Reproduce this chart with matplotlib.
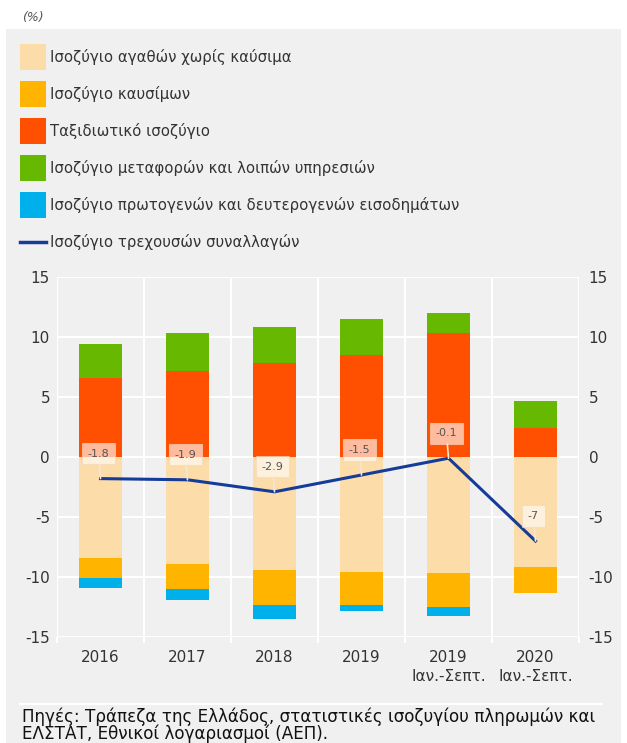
import numpy as np
import matplotlib
matplotlib.use("Agg")
import matplotlib.pyplot as plt
from matplotlib.patches import Rectangle
from matplotlib.lines import Line2D

# Data (% of GDP)
categories = ["2016", "2017", "2018", "2019", "2019\nΙαν.-Σεπτ.", "2020\nΙαν.-Σεπτ."]
goods_ex_fuel = [-8.4, -8.95, -9.4, -9.55, -9.7, -9.2]
fuel = [-1.7, -2.05, -2.9, -2.75, -2.8, -2.1]
income = [-0.85, -0.95, -1.2, -0.55, -0.75, 0.0]
travel = [6.55, 7.2, 7.8, 8.5, 10.35, 2.4]
transport = [2.85, 3.1, 3.0, 3.0, 1.65, 2.25]
current_account = [-1.8, -1.9, -2.9, -1.5, -0.1, -7.0]
ca_labels = ["-1.8", "-1.9", "-2.9", "-1.5", "-0.1", "-7"]

labels = [
    "Ισοζύγιο αγαθών χωρίς καύσιμα",
    "Ισοζύγιο καυσίμων",
    "Ταξιδιωτικό ισοζύγιο",
    "Ισοζύγιο μεταφορών και λοιπών υπηρεσιών",
    "Ισοζύγιο πρωτογενών και δευτερογενών εισοδημάτων",
    "Ισοζύγιο τρεχουσών συναλλαγών",
]
colors = ["#FCDCA8", "#FFB400", "#FF4F00", "#66B800", "#00B0EA"]
line_color = "#143C98"
bg = "#F0F0F0"
txt = "#333333"

plt.rcParams["font.family"] = ["DejaVu Sans"]
plt.rcParams["axes.unicode_minus"] = False

W, H = 627, 743
fig = plt.figure(figsize=(W / 100, H / 100), dpi=100, facecolor="white")

# grey panel
fig.patches.append(Rectangle((6 / W, 0), 615 / W, 1 - 29 / H, transform=fig.transFigure,
                             facecolor=bg, edgecolor="none", zorder=-10))

ax = fig.add_axes([57 / W, 1 - 637 / H, 522 / W, 360 / H])
ax.set_facecolor(bg)
x = np.arange(len(categories))
bw = 0.5

g = np.array(goods_ex_fuel)
f = np.array(fuel)
inc = np.array(income)
tr = np.array(travel)
tp = np.array(transport)

ax.bar(x, g, bw, color=colors[0], zorder=2)
ax.bar(x, f, bw, bottom=g, color=colors[1], zorder=2)
ax.bar(x, inc, bw, bottom=g + f, color=colors[4], zorder=2)
ax.bar(x, tr, bw, color=colors[2], zorder=2)
ax.bar(x, tp, bw, bottom=tr, color=colors[3], zorder=2)

ax.plot(x, current_account, color=line_color, lw=2.2, zorder=3)

for xi, yi, lab in zip(x, current_account, ca_labels):
    ax.annotate(lab, xy=(xi, yi), xytext=(-2, 25), textcoords="offset pixels",
                ha="center", va="center", fontsize=8, color="#555555", zorder=4,
                bbox=dict(boxstyle="square,pad=0.5", facecolor="white", alpha=0.62,
                          edgecolor="#f3d9c0", lw=0.8),
                arrowprops=dict(arrowstyle="-", color="#f6e6d2", lw=1.2,
                                shrinkA=0, shrinkB=0))

ax.set_xlim(-0.5, len(categories) - 0.5)
ax.set_ylim(-15, 15)
ax.set_yticks(np.arange(-15, 16, 5))
ax.set_xticks(x)
ax.set_xticklabels(categories, fontsize=11, color=txt, linespacing=1.35)
ax.set_xticks(np.arange(-0.5, len(categories), 1), minor=True)
ax.grid(True, which="major", axis="y", color="white", lw=1.5, zorder=1)
ax.grid(True, which="minor", axis="x", color="white", lw=1.5, zorder=1)
ax.tick_params(axis="x", which="major", length=0, pad=9)
ax.tick_params(axis="x", which="minor", length=4, color="white", width=1.5)
ax.tick_params(axis="y", length=0, labelsize=11, labelcolor=txt, pad=5)
for s in ax.spines.values():
    s.set_visible(False)
ax.set_axisbelow(True)

ax2 = ax.twinx()
ax2.set_ylim(-15, 15)
ax2.set_yticks(np.arange(-15, 16, 5))
ax2.tick_params(axis="y", length=0, labelsize=11, labelcolor=txt, pad=7)
for s in ax2.spines.values():
    s.set_visible(False)

# legend, drawn row by row
for i, lab in enumerate(labels):
    yc = 1 - (57 + 37 * i) / H
    if i < len(colors):
        fig.patches.append(Rectangle((20 / W, yc - 13 / H), 26 / W, 26 / H,
                                     transform=fig.transFigure, facecolor=colors[i],
                                     edgecolor="none"))
    else:
        fig.add_artist(Line2D([20 / W, 46 / W], [yc, yc], color=line_color, lw=2.5,
                              transform=fig.transFigure))
    fig.text(50 / W, yc, lab, fontsize=10.7, color=txt, va="center", ha="left")

fig.text(22 / W, 1 - 18 / H, "(%)", fontsize=9, style="italic", color="#555555",
         va="center", ha="left")

# source
fig.add_artist(Line2D([20 / W, 602 / W], [1 - 704 / H, 1 - 704 / H], color="white",
                      lw=1.5, transform=fig.transFigure))
fig.text(22 / W, 1 - 707 / H,
         "Πηγές: Τράπεζα της Ελλάδος, στατιστικές ισοζυγίου πληρωμών και\n"
         "ΕΛΣΤΑΤ, Εθνικοί λογαριασμοί (ΑΕΠ).",
         fontsize=12.1, color="#111111", va="top", ha="left", linespacing=0.95)

fig.savefig("out.png", dpi=100, facecolor="white")
